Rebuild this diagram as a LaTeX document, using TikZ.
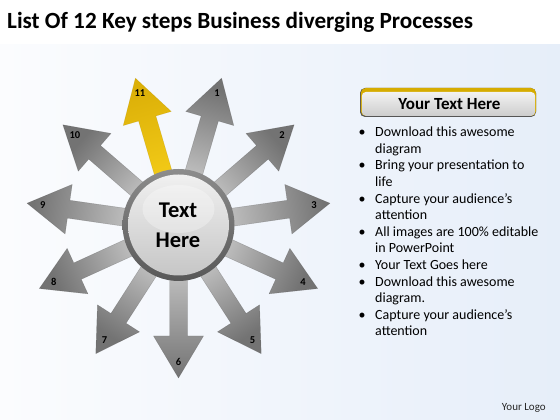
\documentclass[tikz,border=0pt]{standalone}
\usepackage{fontspec}
\setmainfont{Carlito}
\usetikzlibrary{calc}
\definecolor{arrlight}{RGB}{225,225,225}
\definecolor{arrdark}{RGB}{115,115,115}
\definecolor{ylight}{RGB}{252,214,30}
\definecolor{ydark}{RGB}{220,176,8}
\definecolor{ringlight}{RGB}{140,140,140}
\definecolor{ringdark}{RGB}{88,88,88}
\definecolor{disklight}{RGB}{240,240,240}
\definecolor{diskdark}{RGB}{198,198,198}
\definecolor{bgleft}{RGB}{251,252,254}
\definecolor{bgright}{RGB}{230,238,249}
\definecolor{hdrgold}{RGB}{214,172,0}
\definecolor{hdrdark}{RGB}{85,85,85}
\definecolor{hdrlight}{RGB}{242,242,242}
\definecolor{hdrmid}{RGB}{205,205,205}
\tikzset{
  arrowshape/.style={draw=arrdark!70!black, draw opacity=0.35, line width=0.4pt},
  numlbl/.style={font=\bfseries\fontsize{10.5}{12}\selectfont, inner sep=0pt, text=black},
  hubtxt/.style={font=\bfseries\fontsize{22.5}{26}\selectfont, inner sep=0pt, anchor=base},
  bullettxt/.style={font=\fontsize{14}{16.6}\selectfont, inner sep=0pt, align=left, anchor=north west},
}
\newcommand{\bul}{\makebox[16.5pt][l]{\textbullet}}
\newcommand{\ind}{\hspace*{16.5pt}}
\begin{document}
\begin{tikzpicture}[x=1pt,y=1pt]
\useasboundingbox (0,0) rectangle (560,420);
% background
\fill[white] (0,0) rectangle (560,420);
\shade[left color=bgleft, right color=bgright] (0,0) rectangle (560,375);
% title
\node[anchor=base west, inner sep=0pt, font=\bfseries\fontsize{23.2}{27}\selectfont] (title) at (7,391.7) {List Of 12 Key steps Business diverging Processes};
% hub centre
\coordinate (hub) at (178.5,195);
% grey arrows
\foreach \k in {1,...,10} {
  \pgfmathsetmacro\ang{270+(6-\k)*360/11}
  \pgfmathsetmacro\sang{\ang-90}
  \begin{scope}[shift={(hub)}, rotate=\ang]
    \shade[arrowshape, bottom color=arrlight, top color=arrdark, shading angle=\sang]
      (0,-9) -- (111,-9) -- (111,-25) -- (153,0) -- (111,25) -- (111,9) -- (0,9) -- cycle;
  \end{scope}
}
% yellow arrow 11
\pgfmathsetmacro\angY{270+(6-11)*360/11}
\pgfmathsetmacro\sangY{\angY-90}
\begin{scope}[shift={(hub)}, rotate=\angY]
  \shade[draw=ydark!80!black, draw opacity=0.35, line width=0.4pt, bottom color=ylight, top color=ydark, shading angle=\sangY]
    (0,-9) -- (111,-9) -- (111,-25) -- (153,0) -- (111,25) -- (111,9) -- (0,9) -- cycle;
\end{scope}
% number labels
\foreach \k in {1,...,11} {
  \pgfmathsetmacro\ang{270+(6-\k)*360/11}
  \node[numlbl] (n\k) at ([shift={(\ang:137)}]hub) {\k};
}
% hub circle
\shade[top color=ringlight, bottom color=ringdark] (hub) circle (56);
\shade[top color=disklight, bottom color=diskdark] (hub) circle (50.5);
\fill[white, opacity=0.3] ([yshift=16]hub) ellipse (36 and 24);
\node[hubtxt] (t1) at (178,202.7) {Text};
\node[hubtxt] (t2) at (178,172.7) {Here};
% right panel header
\fill[hdrdark, rounded corners=5pt] (360,303) rectangle (536,332);
\fill[hdrgold, rounded corners=5pt] (360.8,304) rectangle (536,332);
\shade[top color=hdrlight, bottom color=hdrmid, rounded corners=4pt] (361.8,304.2) rectangle (535.2,328);
\node[anchor=base, inner sep=0pt, font=\bfseries\fontsize{17}{20}\selectfont] (hdr) at (449.5,310.7) {Your Text Here};
% bullets
\node[bullettxt] (list) at (358.5,293.3) {%
\bul Download this awesome\\
\ind diagram\\
\bul Bring your presentation to\\
\ind life\\
\bul Capture your audience’s\\
\ind attention\\
\bul All images are 100\% editable\\
\ind in PowerPoint\\
\bul Your Text Goes here\\
\bul Download this awesome\\
\ind diagram.\\
\bul Capture your audience’s\\
\ind attention};
% logo
\node[anchor=base, inner sep=0pt, font=\fontsize{11}{13}\selectfont, text=black!85] (logo) at (523.8,9.3) {Your Logo};
\end{tikzpicture}
\end{document}
